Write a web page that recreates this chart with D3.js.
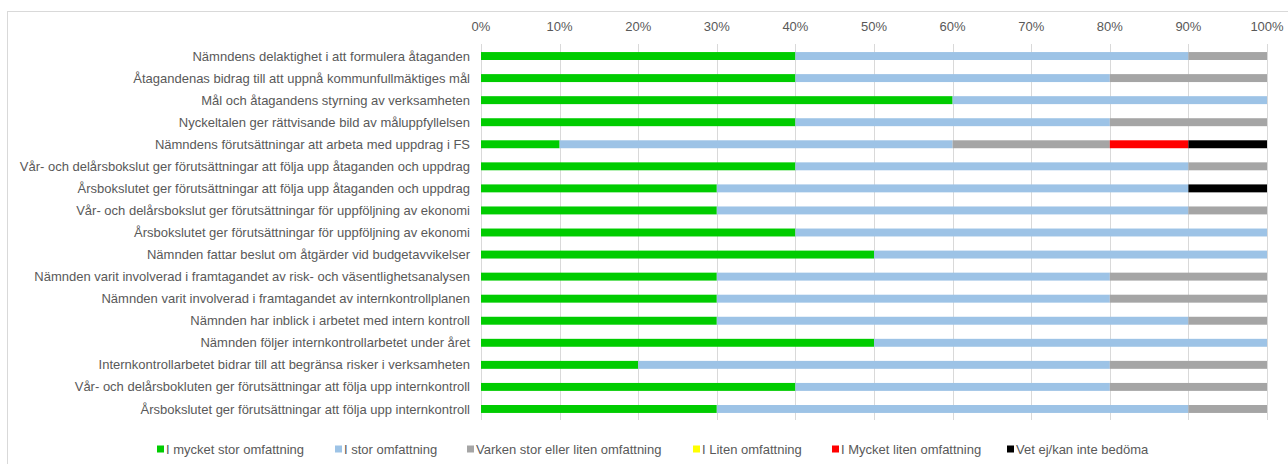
<!DOCTYPE html>
<html>
<head>
<meta charset="utf-8">
<script src="https://cdn.jsdelivr.net/npm/d3@7"></script>
<style>
  body { margin: 0; background: #fff; }
  svg text { font-family: "Liberation Sans", Arial, sans-serif; fill: #595959; font-size: 13px; }
</style>
</head>
<body>
<svg id="chart" width="1288" height="464"></svg>
<script>
var CATEGORIES = [
  'Nämndens delaktighet i att formulera åtaganden',
  'Åtagandenas bidrag till att uppnå kommunfullmäktiges mål',
  'Mål och åtagandens styrning av verksamheten',
  'Nyckeltalen ger rättvisande bild av måluppfyllelsen',
  'Nämndens förutsättningar att arbeta med uppdrag i FS',
  'Vår- och delårsbokslut ger förutsättningar att följa upp åtaganden och uppdrag',
  'Årsbokslutet ger förutsättningar att följa upp åtaganden och uppdrag',
  'Vår- och delårsbokslut ger förutsättningar för uppföljning av ekonomi',
  'Årsbokslutet ger förutsättningar för uppföljning av ekonomi',
  'Nämnden fattar beslut om åtgärder vid budgetavvikelser',
  'Nämnden varit involverad i framtagandet av risk- och väsentlighetsanalysen',
  'Nämnden varit involverad i framtagandet av internkontrollplanen',
  'Nämnden har inblick i arbetet med intern kontroll',
  'Nämnden följer internkontrollarbetet under året',
  'Internkontrollarbetet bidrar till att begränsa risker i verksamheten',
  'Vår- och delårsbokluten ger förutsättningar att följa upp internkontroll',
  'Årsbokslutet ger förutsättningar att följa upp internkontroll'
];

var SERIES = [
  'I mycket stor omfattning',
  'I stor omfattning',
  'Varken stor eller liten omfattning',
  'I Liten omfattning',
  'I Mycket liten omfattning',
  'Vet ej/kan inte bedöma'
];

var COLORS = ['#00cc00', '#9dc3e6', '#a5a5a5', '#ffff00', '#ff0000', '#000000'];

// percent per category, one array per series
var MYCKET_STOR = [40, 40, 60, 40, 10, 40, 30, 30, 40, 50, 30, 30, 30, 50, 20, 40, 30];
var STOR        = [50, 40, 40, 40, 50, 50, 60, 60, 60, 50, 50, 50, 60, 50, 60, 40, 60];
var VARKEN      = [10, 20,  0, 20, 20, 10,  0, 10,  0,  0, 20, 20, 10,  0, 20, 20, 10];
var LITEN       = [ 0,  0,  0,  0,  0,  0,  0,  0,  0,  0,  0,  0,  0,  0,  0,  0,  0];
var MYCKET_LITEN= [ 0,  0,  0,  0, 10,  0,  0,  0,  0,  0,  0,  0,  0,  0,  0,  0,  0];
var VET_EJ      = [ 0,  0,  0,  0, 10,  0, 10,  0,  0,  0,  0,  0,  0,  0,  0,  0,  0];

var TICKS = [0, 10, 20, 30, 40, 50, 60, 70, 80, 90, 100];

var svg = d3.select('#chart');

// outer frame
svg.append('rect')
    .attr('x', 7.5).attr('y', 11.5)
    .attr('width', 1290).attr('height', 470)
    .attr('fill', 'none')
    .attr('stroke', '#d9d9d9');

var rows = CATEGORIES.map(function(c, i) {
  return {
    cat: c,
    values: [MYCKET_STOR[i], STOR[i], VARKEN[i], LITEN[i], MYCKET_LITEN[i], VET_EJ[i]]
  };
});

var x = d3.scaleLinear().domain([0, 100]).range([481, 1267]);
var y = d3.scaleBand().domain(CATEGORIES).range([45, 420]).paddingInner(0.64).paddingOuter(0.32);

// gridlines
svg.append('g')
  .selectAll('line')
  .data(TICKS)
  .enter().append('line')
    .attr('x1', function(d) { return Math.round(x(d)) + 0.5; })
    .attr('x2', function(d) { return Math.round(x(d)) + 0.5; })
    .attr('y1', 44)
    .attr('y2', 420)
    .attr('stroke', '#d9d9d9');

// top axis labels
svg.append('g')
  .selectAll('text')
  .data(TICKS)
  .enter().append('text')
    .attr('x', function(d) { return x(d); })
    .attr('y', 26)
    .attr('dy', '0.35em')
    .attr('text-anchor', 'middle')
    .text(function(d) { return d + '%'; });

// category labels
svg.append('g')
  .selectAll('text')
  .data(CATEGORIES)
  .enter().append('text')
    .attr('x', 470)
    .attr('y', function(d) { return y(d) + y.bandwidth() / 2; })
    .attr('dy', '0.35em')
    .attr('text-anchor', 'end')
    .text(function(d) { return d; });

// stacked bars
var stackData = rows.map(function(r) {
  var o = { cat: r.cat };
  SERIES.forEach(function(s, k) { o[s] = r.values[k]; });
  return o;
});
var stacked = d3.stack().keys(SERIES)(stackData);

svg.append('g')
  .selectAll('g')
  .data(stacked)
  .enter().append('g')
    .attr('fill', function(d, i) { return COLORS[i]; })
  .selectAll('rect')
  .data(function(d) { return d; })
  .enter().append('rect')
    .attr('x', function(d) { return x(d[0]); })
    .attr('y', function(d) { return y(d.data.cat); })
    .attr('width', function(d) { return x(d[1]) - x(d[0]); })
    .attr('height', y.bandwidth());

// legend
var LEGEND_X = [157, 335, 467, 693, 832, 1007];
var legend = svg.append('g')
  .selectAll('g')
  .data(SERIES)
  .enter().append('g')
    .attr('transform', function(d, i) { return 'translate(' + LEGEND_X[i] + ',449)'; });

legend.append('rect')
    .attr('x', 0).attr('y', -3.5)
    .attr('width', 7).attr('height', 7)
    .attr('fill', function(d, i) { return COLORS[i]; });

legend.append('text')
    .attr('x', 9)
    .attr('dy', '0.35em')
    .text(function(d) { return d; });
</script>
</body>
</html>
